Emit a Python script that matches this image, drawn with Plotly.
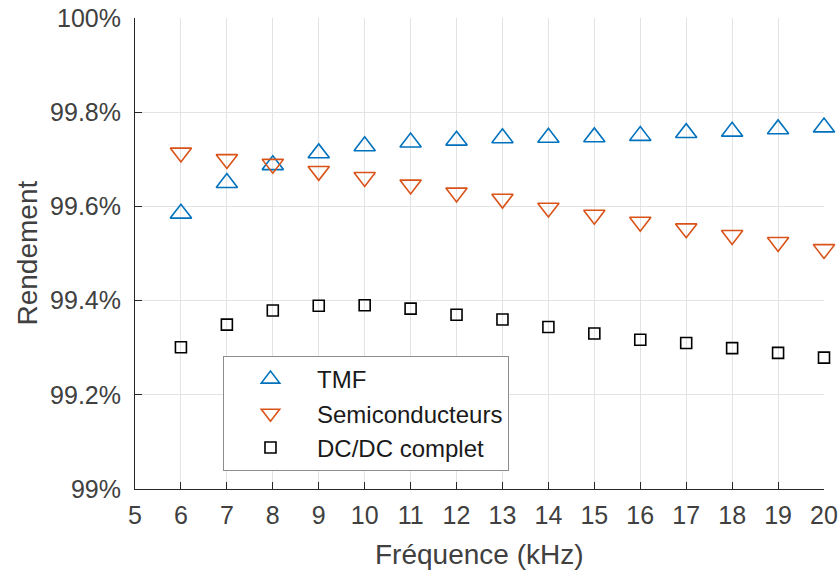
import plotly.graph_objects as go

freq_khz = [6, 7, 8, 9, 10, 11, 12, 13, 14, 15, 16, 17, 18, 19, 20]
tmf = [99.585, 99.650, 99.688, 99.713, 99.728, 99.736, 99.740, 99.745, 99.746,
       99.747, 99.750, 99.756, 99.759, 99.764, 99.768]
semi = [99.714, 99.700, 99.690, 99.675, 99.662, 99.646, 99.629, 99.616, 99.597,
        99.582, 99.567, 99.553, 99.539, 99.524, 99.509]
dcdc = [99.301, 99.349, 99.379, 99.389, 99.390, 99.383, 99.370, 99.360, 99.344,
        99.330, 99.317, 99.310, 99.299, 99.289, 99.279]

y_tickvals = [99.0, 99.2, 99.4, 99.6, 99.8, 100.0]
y_ticktext = ["99%", "99.2%", "99.4%", "99.6%", "99.8%", "100%"]
x_tickvals = list(range(5, 21))

FONT = "Liberation Sans, Arial, Helvetica, sans-serif"
AX = "#262626"
LBL = "#404040"

fig = go.Figure()
fig.add_trace(go.Scatter(
    x=freq_khz, y=tmf, mode="markers", name="TMF", cliponaxis=False,
    marker=dict(symbol="triangle-up-open", size=18.5, color="#0072BD",
                line=dict(width=1.6, color="#0072BD"))))
fig.add_trace(go.Scatter(
    x=freq_khz, y=semi, mode="markers", name="Semiconducteurs", cliponaxis=False,
    marker=dict(symbol="triangle-down-open", size=18.5, color="#D95319",
                line=dict(width=1.6, color="#D95319"))))
fig.add_trace(go.Scatter(
    x=freq_khz, y=dcdc, mode="markers", name="DC/DC complet", cliponaxis=False,
    marker=dict(symbol="square-open", size=11, color="#000000",
                line=dict(width=1.6, color="#000000"))))

fig.update_layout(
    width=840, height=574,
    margin=dict(l=135, r=16, t=18, b=85),
    paper_bgcolor="white", plot_bgcolor="white",
    font=dict(family=FONT, color=AX, size=25),
    showlegend=True,
    legend=dict(
        x=0.1277, y=0.2824, xanchor="left", yanchor="top",
        bgcolor="white", bordercolor="#8c8c8c", borderwidth=1,
        font=dict(family=FONT, size=24, color="#1a1a1a"),
        itemwidth=83,
    ),
    xaxis=dict(
        range=[5, 20], tickvals=x_tickvals, automargin=False,
        showline=True, linecolor=AX, linewidth=1, mirror=False,
        ticks="inside", ticklen=7, tickcolor=AX, tickwidth=1,
        showgrid=True, gridcolor="#e3e3e3", gridwidth=1, zeroline=False,
        tickfont=dict(family=FONT, size=25, color=LBL),
        ticklabelstandoff=4, ticklabeloverflow="allow",
    ),
    yaxis=dict(
        range=[99, 100], tickvals=y_tickvals, ticktext=y_ticktext, automargin=False,
        showline=True, linecolor=AX, linewidth=1, mirror=False,
        ticks="inside", ticklen=7, tickcolor=AX, tickwidth=1,
        showgrid=True, gridcolor="#e3e3e3", gridwidth=1, zeroline=False,
        tickfont=dict(family=FONT, size=25, color=LBL),
        ticklabelstandoff=8, ticklabeloverflow="allow",
    ),
    annotations=[
        dict(text="Fréquence (kHz)", x=0.5, y=0, xref="paper", yref="paper",
             xanchor="center", yanchor="middle", yshift=-65, showarrow=False,
             font=dict(family=FONT, size=28, color=LBL)),
        dict(text="Rendement", x=0, y=0.5, xref="paper", yref="paper",
             xanchor="center", yanchor="middle", xshift=-108, textangle=-90,
             showarrow=False, font=dict(family=FONT, size=28, color=LBL)),
    ],
)

# remove the default 8px page margin so the 840x574 figure fills the window exactly
fig.write_html(
    "out.html",
    config={"displayModeBar": False},
    post_script="document.body.style.margin='0';document.body.style.overflow='hidden';",
)
